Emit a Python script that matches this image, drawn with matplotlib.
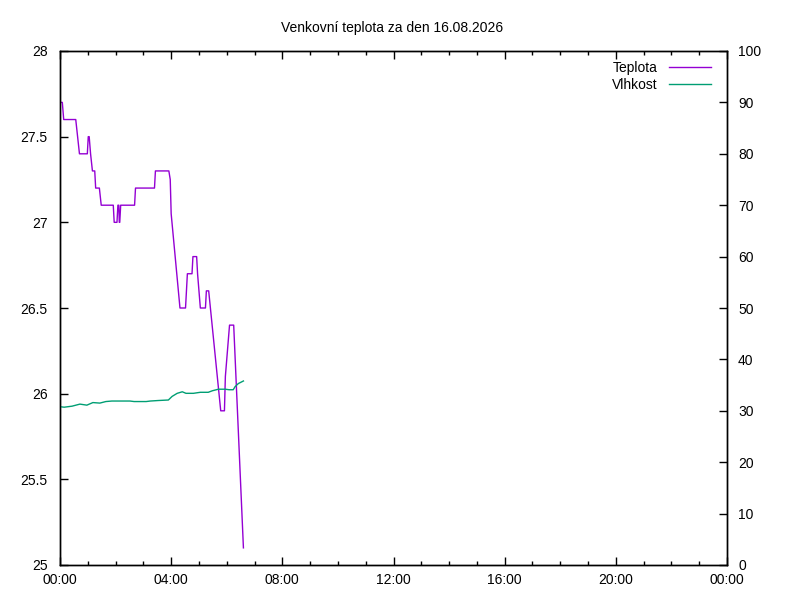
import matplotlib
matplotlib.use("Agg")
import matplotlib.pyplot as plt
import matplotlib.dates as mdates
import numpy as np
from datetime import datetime, timedelta

# venkovni teplota - minuty od pulnoci
temp_min = [2, 5, 8, 34, 42, 59, 61, 63, 66, 70, 75, 77, 85, 89, 115, 117, 123, 125,
            127, 128, 129, 131, 161, 163, 204, 206, 235, 238, 240, 259, 271, 275, 285,
            287, 295, 297, 303, 314, 316, 321, 347, 355, 357, 366, 375, 396]
temp_val = [27.7, 27.7, 27.6, 27.6, 27.4, 27.4, 27.5, 27.5, 27.4, 27.3, 27.3, 27.2, 27.2,
            27.1, 27.1, 27.0, 27.0, 27.1, 27.1, 27.0, 27.0, 27.1, 27.1, 27.2, 27.2, 27.3,
            27.3, 27.25, 27.05, 26.5, 26.5, 26.7, 26.7, 26.8, 26.8, 26.7, 26.5, 26.5, 26.6,
            26.6, 25.9, 25.9, 26.1, 26.4, 26.4, 25.1]

# vlhkost
hum_min = [0, 9, 26, 43, 58, 71, 86, 99, 112, 151, 160, 186, 195, 212, 234, 242, 253,
           264, 272, 288, 303, 320, 329, 342, 357, 365, 374, 378, 385, 396]
hum_val = [30.8, 30.7, 30.9, 31.3, 31.1, 31.6, 31.5, 31.8, 31.9, 31.9, 31.8, 31.8, 31.9,
           32.0, 32.1, 32.8, 33.4, 33.7, 33.4, 33.4, 33.6, 33.6, 33.9, 34.2, 34.2, 34.1,
           34.1, 34.7, 35.3, 35.8]

day = datetime(2026, 8, 16)
t_temp = [day + timedelta(minutes=m) for m in temp_min]
t_hum = [day + timedelta(minutes=m) for m in hum_min]

plt.rcParams['font.family'] = ['Liberation Sans', 'DejaVu Sans']
plt.rcParams['font.size'] = 10

fig = plt.figure(figsize=(8, 6), dpi=100)
ax = fig.add_axes([60 / 800, 35 / 600, 667 / 800, 514 / 600])
ax2 = ax.twinx()

l1, = ax.plot(t_temp, temp_val, color='#9400D3', lw=1.0, label='Teplota')
l2, = ax2.plot(t_hum, hum_val, color='#009E73', lw=1.0, label='Vlhkost')

ax.set_xlim(day, day + timedelta(hours=24))
ax.set_ylim(25, 28)
ax2.set_ylim(0, 100)

ax.xaxis.set_minor_locator(mdates.HourLocator())
# posledni popisek 00:00 na konci osy
ticks = [day + timedelta(hours=h) for h in range(0, 25, 4)]
ax.set_xticks(ticks)
ax.set_xticklabels([t.strftime('%H:%M') for t in ticks])

ax.set_yticks(np.arange(25, 28.01, 0.5))
ax.set_yticklabels(['25', '25.5', '26', '26.5', '27', '27.5', '28'])
ax2.set_yticks(np.arange(0, 101, 10))

ax.tick_params(axis='x', which='major', direction='in', length=6, width=1, top=True, pad=6)
ax.tick_params(axis='x', which='minor', direction='in', length=3, width=1, top=True)
ax.tick_params(axis='y', direction='in', length=6, width=1, right=False, pad=9)
ax2.tick_params(axis='y', direction='in', length=6, width=1, pad=8)
for a in (ax, ax2):
    for s in a.spines.values():
        s.set_linewidth(1)

fig.suptitle('Venkovní teplota za den 16.08.2026', x=0.49, y=0.965, fontsize=10)

ax.legend([l1, l2], ['Teplota', 'Vlhkost'], loc='upper right', bbox_to_anchor=(0.99, 1.0),
          frameon=False, markerfirst=False, handlelength=3.0, borderaxespad=0.3,
          labelspacing=0.25, fontsize=10)

fig.savefig('out.png', dpi=100)
